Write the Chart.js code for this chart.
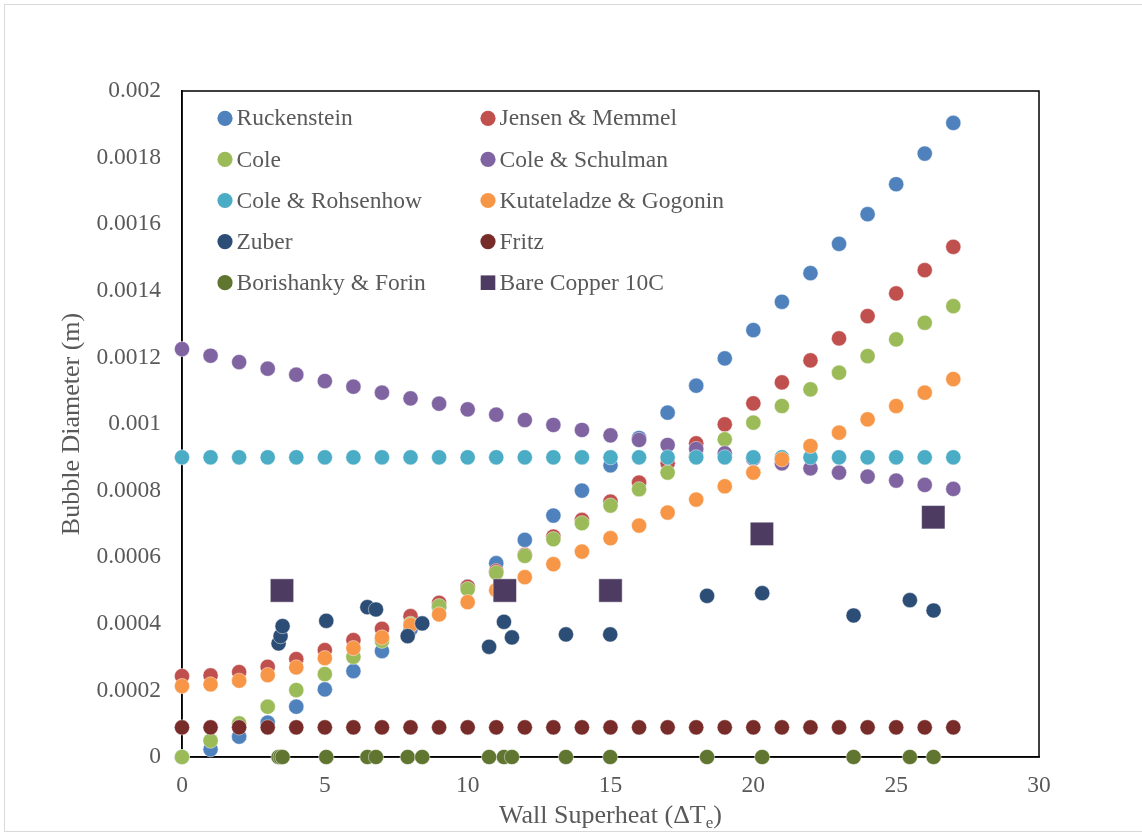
<!DOCTYPE html>
<html>
<head>
<meta charset="utf-8">
<script src="https://cdn.jsdelivr.net/npm/chart.js@4.4.0/dist/chart.umd.min.js"></script>
<style>
  html, body { margin: 0; padding: 0; background: #fff; }
  canvas { display: block; }
</style>
</head>
<body>
<canvas id="chartCanvas" width="1142" height="833"></canvas>
<script>
// Wall superheat (K) used by the correlations
const superheat = [0, 1, 2, 3, 4, 5, 6, 7, 8, 9, 10, 11, 12, 13, 14, 15, 16, 17, 18, 19, 20, 21, 22, 23, 24, 25, 26, 27];

// Predicted departure diameters (m)
const ruckenstein = [0, 0.000023, 0.000061, 0.000103, 0.000151, 0.000203, 0.000258, 0.000318, 0.000383, 0.00045, 0.000512, 0.000582, 0.000652, 0.000725, 0.0008, 0.000876, 0.000958, 0.001034, 0.001115, 0.001197, 0.001282, 0.001367, 0.001453, 0.001541, 0.00163, 0.00172, 0.001812, 0.001904];
const jensenMemmel = [0.000243, 0.000245, 0.000255, 0.000271, 0.000294, 0.000321, 0.000351, 0.000385, 0.000423, 0.000463, 0.000511, 0.000558, 0.000607, 0.000662, 0.000712, 0.000767, 0.000824, 0.000882, 0.000942, 0.000999, 0.001062, 0.001125, 0.001191, 0.001257, 0.001324, 0.001392, 0.001462, 0.001532];
const cole = [0, 0.000049, 0.000101, 0.000151, 0.000201, 0.000249, 0.000301, 0.000349, 0.0004, 0.000453, 0.000504, 0.000553, 0.000604, 0.000654, 0.000702, 0.000755, 0.000804, 0.000854, 0.000904, 0.000954, 0.001004, 0.001054, 0.001104, 0.001154, 0.001204, 0.001254, 0.001304, 0.001354];
const coleSchulman = [0.001225, 0.001205, 0.001186, 0.001166, 0.001148, 0.001129, 0.001112, 0.001094, 0.001077, 0.001061, 0.001044, 0.001028, 0.001012, 0.000997, 0.000982, 0.000966, 0.000952, 0.000937, 0.000925, 0.000912, 0.000896, 0.000882, 0.000867, 0.000854, 0.000842, 0.00083, 0.000817, 0.000805];
const coleRohsenhow = [0.0009, 0.0009, 0.0009, 0.0009, 0.0009, 0.0009, 0.0009, 0.0009, 0.0009, 0.0009, 0.0009, 0.0009, 0.0009, 0.0009, 0.0009, 0.0009, 0.0009, 0.0009, 0.0009, 0.0009, 0.0009, 0.0009, 0.0009, 0.0009, 0.0009, 0.0009, 0.0009, 0.0009];
const kutateladze = [0.000213, 0.000218, 0.000229, 0.000246, 0.000269, 0.000297, 0.000327, 0.000359, 0.000396, 0.000428, 0.000465, 0.000501, 0.00054, 0.000579, 0.000617, 0.000657, 0.000695, 0.000734, 0.000773, 0.000813, 0.000854, 0.000894, 0.000934, 0.000974, 0.001014, 0.001054, 0.001094, 0.001135];
const fritz = [0.000089, 0.000089, 0.000089, 0.000089, 0.000089, 0.000089, 0.000089, 0.000089, 0.000089, 0.000089, 0.000089, 0.000089, 0.000089, 0.000089, 0.000089, 0.000089, 0.000089, 0.000089, 0.000089, 0.000089, 0.000089, 0.000089, 0.000089, 0.000089, 0.000089, 0.000089, 0.000089, 0.000089];

// Zuber and Borishanky are evaluated at the measured superheats
const measuredSuperheat = [3.38, 3.45, 3.52, 5.05, 6.49, 6.79, 7.9, 8.41, 10.75, 11.27, 11.55, 13.44, 14.99, 18.38, 20.31, 23.51, 25.48, 26.31];
const zuber = [0.000341, 0.000363, 0.000393, 0.000409, 0.00045, 0.000443, 0.000363, 0.000401, 0.000331, 0.000406, 0.000359, 0.000368, 0.000368, 0.000484, 0.000492, 0.000425, 0.000471, 0.00044];
const borishanky = [0, 0, 0, 0, 0, 0, 0, 0, 0, 0, 0, 0, 0, 0, 0, 0, 0, 0];

// Experiment: bare copper surface, 10C subcooling
const copperSuperheat = [3.5, 11.3, 15.0, 20.3, 26.3];
const copperDiameter = [0.0005, 0.0005, 0.0005, 0.00067, 0.00072];

const xTicks = [0, 5, 10, 15, 20, 25, 30];

const textColor = '#595959';
const serif = '"Liberation Serif", "Times New Roman", serif';

const pairUp = (xs, ys) => ys.map((y, i) => ({ x: xs[i], y: y }));

const series = [
  ['Ruckenstein', superheat, ruckenstein, '#4F81BD'],
  ['Jensen & Memmel', superheat, jensenMemmel, '#C0504D'],
  ['Cole', superheat, cole, '#9BBB59'],
  ['Cole & Schulman', superheat, coleSchulman, '#8064A2'],
  ['Cole & Rohsenhow', superheat, coleRohsenhow, '#4BACC6'],
  ['Kutateladze & Gogonin', superheat, kutateladze, '#F79646'],
  ['Zuber', measuredSuperheat, zuber, '#2C4D75'],
  ['Fritz', superheat, fritz, '#772C2A'],
  ['Borishanky & Forin', measuredSuperheat, borishanky, '#5F7530'],
  ['Bare Copper 10C', copperSuperheat, copperDiameter, '#4D3B62'],
];

const datasets = series.map(([label, xs, ys, color], i) => {
  const square = label === 'Bare Copper 10C';
  return {
    label: label,
    data: pairUp(xs, ys),
    backgroundColor: color,
    borderColor: 'rgba(255,255,255,0.6)',
    borderWidth: 0.75,
    pointStyle: square ? 'rect' : 'circle',
    pointRadius: square ? 16.5 : 7.6,
    order: -i,   // later series sit on top
    clip: false,
  };
});

// frame round the whole chart and the plot box
const frames = {
  id: 'frames',
  beforeDraw(chart) {
    const ctx = chart.ctx;
    ctx.save();
    ctx.fillStyle = '#fff';
    ctx.fillRect(0, 0, chart.width, chart.height);
    ctx.strokeStyle = '#d9d9d9';
    ctx.lineWidth = 1;
    ctx.strokeRect(4.5, 4.5, chart.width + 10, 827);
    ctx.restore();
  },
  beforeDatasetsDraw(chart) {
    const { ctx, chartArea: a } = chart;
    ctx.save();
    ctx.strokeStyle = '#000';
    ctx.lineWidth = 1.5;
    ctx.strokeRect(a.left, a.top, a.right - a.left, a.bottom - a.top);
    ctx.restore();
  }
};

// two-column legend inside the plot box
const legendGrid = {
  id: 'legendGrid',
  afterDatasetsDraw(chart) {
    const ctx = chart.ctx;
    ctx.save();
    ctx.font = '23.5px ' + serif;
    ctx.textBaseline = 'middle';
    chart.data.datasets.forEach((ds, i) => {
      const mx = i % 2 ? 488 : 225;
      const my = 118.3 + Math.floor(i / 2) * 41.1;
      ctx.fillStyle = ds.backgroundColor;
      if (ds.pointStyle === 'rect') {
        ctx.fillRect(mx - 7.3, my - 7.3, 14.6, 14.6);
      } else {
        ctx.beginPath();
        ctx.arc(mx, my, 7.6, 0, Math.PI * 2);
        ctx.fill();
      }
      ctx.fillStyle = textColor;
      ctx.fillText(ds.label, mx + 11.5, my + 1);
    });
    ctx.restore();
  }
};

// x title with subscript e
const xTitle = {
  id: 'xTitle',
  afterDraw(chart) {
    const { ctx, chartArea: a } = chart;
    const head = 'Wall Superheat (\u0394T', sub = 'e', tail = ')';
    const big = '26px ' + serif, small = '17px ' + serif;
    ctx.save();
    ctx.fillStyle = textColor;
    ctx.textBaseline = 'alphabetic';
    ctx.font = big;
    const w1 = ctx.measureText(head).width, w3 = ctx.measureText(tail).width;
    ctx.font = small;
    const w2 = ctx.measureText(sub).width;
    let x = (a.left + a.right) / 2 - (w1 + w2 + w3) / 2;
    const base = 823;
    ctx.font = big;
    ctx.fillText(head, x, base);
    x += w1;
    ctx.font = small;
    ctx.fillText(sub, x, base + 5);
    x += w2;
    ctx.font = big;
    ctx.fillText(tail, x, base);
    ctx.restore();
  }
};

const chart = new Chart(document.getElementById('chartCanvas'), {
  type: 'scatter',
  data: { datasets: datasets },
  options: {
    responsive: false,
    animation: false,
    devicePixelRatio: 1,
    events: [],
    layout: { padding: { top: 91, right: 103, bottom: 0, left: 0 } },
    plugins: {
      legend: { display: false },
      tooltip: { enabled: false },
    },
    scales: {
      x: {
        type: 'linear',
        min: 0,
        max: 30,
        afterBuildTicks: (scale) => { scale.ticks = xTicks.map(v => ({ value: v })); },
        afterFit: (scale) => { scale.height = 76; },
        grid: { display: false, drawTicks: false },
        border: { display: true, color: '#000', width: 1.5 },
        ticks: { color: textColor, font: { family: serif, size: 23.5 }, padding: 15 },
      },
      y: {
        type: 'linear',
        min: 0,
        max: 0.002,
        afterFit: (scale) => { scale.width = 182; },
        grid: { display: false, drawTicks: false },
        border: { display: true, color: '#000', width: 1.5 },
        ticks: {
          stepSize: 0.0002,
          color: textColor,
          font: { family: serif, size: 23.5 },
          padding: 21,
          callback: (v) => String(Number(v.toFixed(4))),
        },
        title: {
          display: true,
          text: 'Bubble Diameter (m)',
          color: textColor,
          font: { family: serif, size: 26 },
          padding: { top: 57, bottom: 0 },
        },
      },
    },
  },
  plugins: [frames, legendGrid, xTitle],
});
</script>
</body>
</html>
